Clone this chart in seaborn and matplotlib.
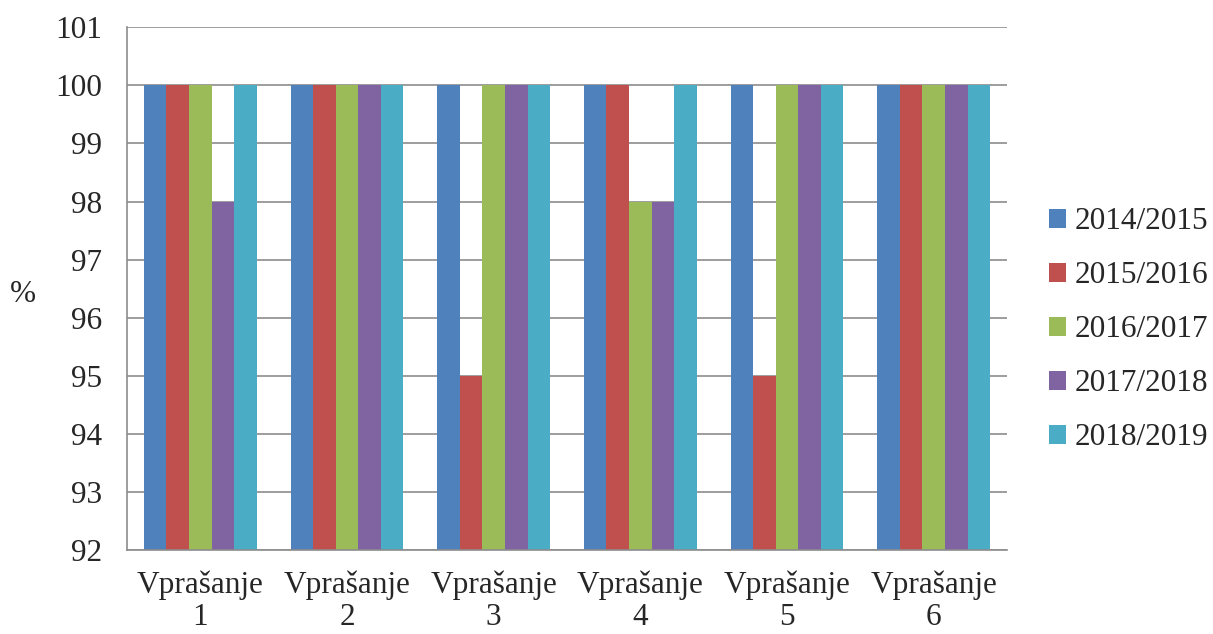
import pandas as pd
import seaborn as sns
import matplotlib.pyplot as plt

questions = ["Vprašanje\n1", "Vprašanje\n2", "Vprašanje\n3",
             "Vprašanje\n4", "Vprašanje\n5", "Vprašanje\n6"]
years = ["2014/2015", "2015/2016", "2016/2017", "2017/2018", "2018/2019"]
y2014 = [100, 100, 100, 100, 100, 100]
y2015 = [100, 100, 95, 100, 95, 100]
y2016 = [100, 100, 100, 98, 100, 100]
y2017 = [98, 100, 100, 98, 100, 100]
y2018 = [100, 100, 100, 100, 100, 100]
colors = ["#4F81BD", "#C0504D", "#9BBB59", "#8064A2", "#4BACC6"]

rows = []
for year, vals in zip(years, [y2014, y2015, y2016, y2017, y2018]):
    for q, v in zip(questions, vals):
        rows.append({"q": q, "val": v, "year": year})
df = pd.DataFrame(rows)

sns.set_style("white")
plt.rcParams["font.family"] = ["Liberation Serif", "DejaVu Serif"]
grid_col = "#8c8c8c"

fig = plt.figure(figsize=(12.13, 6.34), dpi=100)
ax = fig.add_axes([0.1047, 0.1325, 0.7255, 0.8245])
sns.barplot(data=df, x="q", y="val", hue="year", hue_order=years,
            palette=colors, width=0.77, saturation=1, linewidth=0,
            ax=ax, legend=True)

ax.set_ylim(92, 101)
ax.set_yticks(range(92, 102))
ax.set_xlim(-0.5, 5.5)
ax.yaxis.grid(True, color=grid_col, linewidth=1.2)
ax.set_axisbelow(True)
for s in ["top", "right"]:
    ax.spines[s].set_visible(False)
for s in ["left", "bottom"]:
    ax.spines[s].set_color(grid_col)
    ax.spines[s].set_linewidth(1.2)

ax.set_xlabel("")
ax.set_ylabel("")
ax.tick_params(axis="y", length=10, color=grid_col, width=1.2, labelsize=22.5, pad=8)
ax.tick_params(axis="x", which="major", length=0, labelsize=22.5, pad=15)
ax.set_xticks([i + 0.5 for i in range(-1, 6)], minor=True)
ax.tick_params(axis="x", which="minor", length=10, color=grid_col, width=1.2)
for lab in ax.get_xticklabels():
    lab.set_linespacing(1.1)

handles, labels = ax.get_legend_handles_labels()
ax.get_legend().remove()
fig.legend(handles, labels, loc="center left", bbox_to_anchor=(0.865, 0.48),
           frameon=False, fontsize=22.5, handlelength=0.55, handleheight=0.55,
           handletextpad=0.27, labelspacing=0.8, borderpad=0, borderaxespad=0)

fig.text(0.019, 0.535, "%", fontsize=22.5, ha="center", va="center")

fig.savefig("out.png", dpi=100)
